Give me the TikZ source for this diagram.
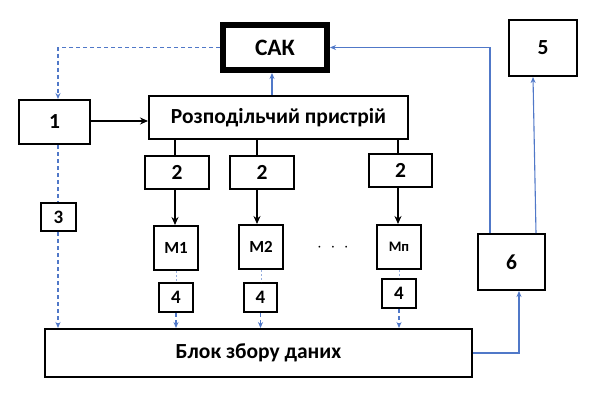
\documentclass[tikz,border=0pt]{standalone}
\usepackage{fontspec}
\setmainfont{Carlito}
\usetikzlibrary{arrows.meta,calc}
\definecolor{lblue}{RGB}{80,120,200}
\begin{document}
\begin{tikzpicture}[x=1pt,y=-1pt,
  box/.style={draw=black,line width=2pt,inner sep=0pt,font=\bfseries\fontsize{21.5}{22}\selectfont},
  sbox/.style={box,font=\bfseries\fontsize{19}{20}\selectfont},
  mbox/.style={box,font=\bfseries\fontsize{17}{18}\selectfont},
  blk/.style={line width=2pt,-{Stealth[length=8pt,width=7pt]}},
  bl/.style={lblue,line width=1.1pt,-{Stealth[length=6pt,width=5pt]}},
  bld/.style={bl,dashed,dash pattern=on 4pt off 3pt},
  bdot/.style={lblue!60,line width=0.8pt,dash pattern=on 2pt off 2pt}
]
\useasboundingbox (0,0) rectangle (597,400);
\node[box,line width=6pt,minimum width=104pt,minimum height=45pt,font=\bfseries\fontsize{23.5}{24}\selectfont] (cak) at (275,47.5) {САК};
\node[box,minimum width=259pt,minimum height=43pt] (dist) at (278.5,117.5) {Розподільчий пристрій};
\node[box,minimum width=71pt,minimum height=44pt] (n1) at (54.5,122) {1};
\node[box,minimum width=68pt,minimum height=56pt,anchor=north] (n5) at (543,19) {5};
\node[box,minimum width=64pt,minimum height=33pt] (a2) at (177,172.5) {2};
\node[box,minimum width=64pt,minimum height=33pt] (b2) at (262,172) {2};
\node[box,minimum width=63pt,minimum height=33pt] (c2) at (400.5,170.5) {2};
\node[mbox,minimum width=44pt,minimum height=44pt] (m1) at (176,248) {М1};
\node[mbox,minimum width=44pt,minimum height=44pt] (m2) at (261,247) {М2};
\node[mbox,minimum width=44pt,minimum height=44pt,font=\bfseries\fontsize{14.5}{15}\selectfont] (mn) at (399,247) {Мп};
\node[sbox,minimum width=34pt,minimum height=29pt] (a4) at (176,297.5) {4};
\node[sbox,minimum width=33pt,minimum height=29pt] (b4) at (260.5,297.5) {4};
\node[sbox,minimum width=34pt,minimum height=29pt] (c4) at (399,293.5) {4};
\node[sbox,minimum width=35pt,minimum height=28pt] (n3) at (58.5,217) {3};
\node[box,minimum width=427pt,minimum height=48pt] (blok) at (258.5,353) {Блок збору даних};
\node[box,minimum width=67pt,minimum height=56pt] (n6) at (511.5,262) {6};
\node[font=\fontsize{16}{16}\selectfont] (dots) at (333,248) {$\cdot\;\cdot\;\cdot$};
% black
\draw[blk] (n1.east |- 0,121) -- (dist.west |- 0,121);
\draw[line width=2pt] (a2.north -| 175,0) -- (dist.south -| 175,0);
\draw[line width=2pt] (b2.north -| 257,0) -- (dist.south -| 257,0);
\draw[line width=2pt] (c2.north -| 398,0) -- (dist.south -| 398,0);
\draw[blk] (a2.south -| 175,0) -- (m1.north -| 175,0);
\draw[blk] (b2.south -| 257,0) -- (m2.north -| 257,0);
\draw[blk] (c2.south -| 398,0) -- (mn.north -| 398,0);
% blue
\draw[bl] (dist.north -| 272,0) -- (cak.south -| 272,0);
\coordinate (c6a) at ($(n6.north west)+(13,0)$);
\draw[bl] (c6a) |- (cak.east);
\draw[bl] ($(n6.north east)+(-10,0)$) -- ($(n5.south)+(-10,0)$);
\coordinate (c6b) at ($(n6.south)+(7.5,0)$);
\draw[bl] (blok.east) -| (c6b);
\draw[bld] (cak.west) -| (n1.north -| 58,0);
\draw[lblue,line width=1.1pt,dashed,dash pattern=on 4pt off 3pt] (n1.south -| 58,0) -- (n3.north -| 58,0);
\draw[bld] (n3.south -| 58,0) -- (blok.north -| 58,0);
\draw[bdot] (m1.south) -- (a4.north);
\draw[bdot] (m2.south) -- (b4.north -| m2.south);
\draw[bdot] (mn.south) -- (c4.north);
\draw[bld] (a4.south) -- (blok.north -| a4.south);
\draw[bld] (b4.south) -- (blok.north -| b4.south);
\draw[bld] (c4.south) -- (blok.north -| c4.south);
\end{tikzpicture}
\end{document}
